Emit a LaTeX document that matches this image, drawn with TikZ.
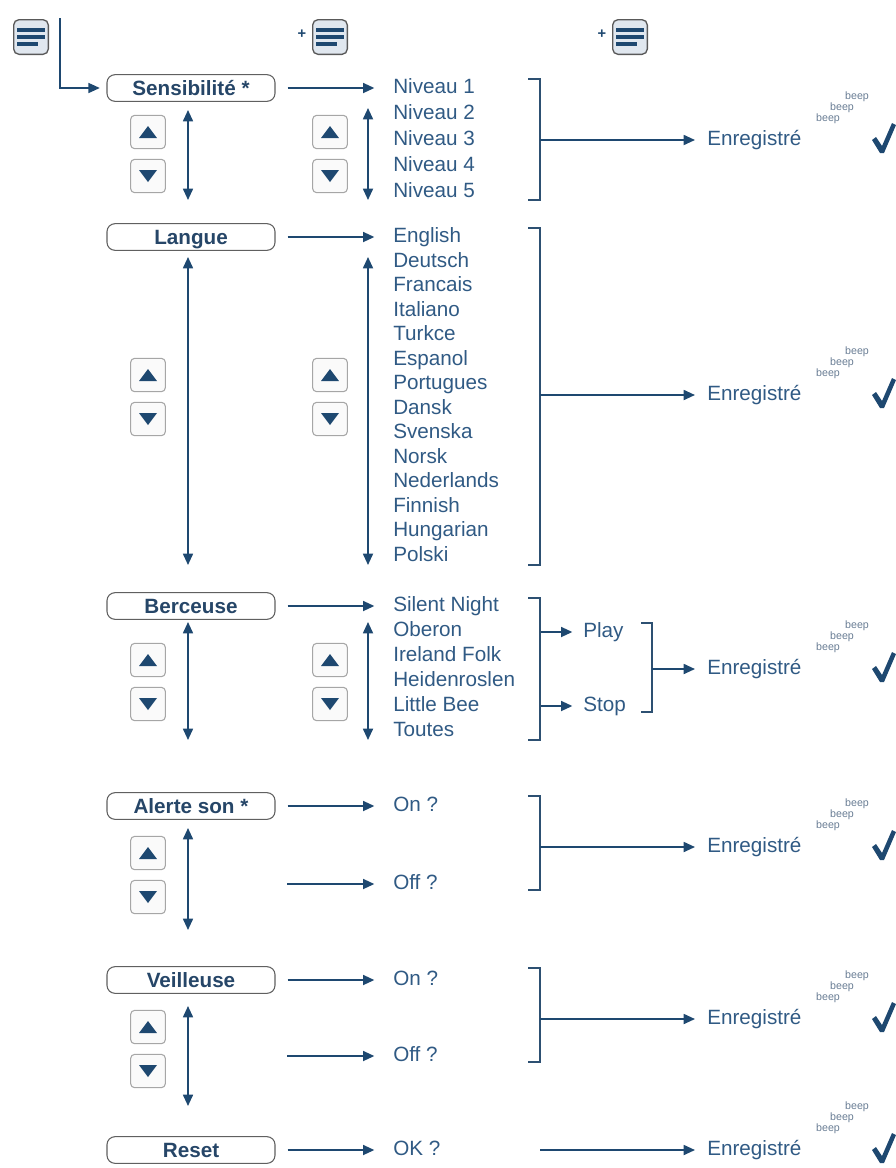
\documentclass[tikz,border=0pt]{standalone}
\usepackage{fontspec}
\setmainfont{Liberation Sans}
\usetikzlibrary{arrows.meta}

\definecolor{linecol}{RGB}{30,72,112}
\definecolor{itemcol}{RGB}{48,90,132}
\definecolor{boxcol}{RGB}{38,70,104}
\definecolor{beepcol}{RGB}{105,125,148}
\definecolor{iconfill}{RGB}{224,231,239}

\tikzset{
	menubox/.style={draw=gray!75!black, line width=0.8pt, rounded corners=6pt, fill=white,
		minimum width=126pt, minimum height=20pt, inner sep=0pt, text height=12pt, text depth=1pt,
		font=\fontsize{15.5}{18}\selectfont\bfseries, text=boxcol},
	item/.style={anchor=west, inner sep=0pt, text height=11.5pt, text depth=3pt,
		font=\fontsize{15.5}{18}\selectfont, text=itemcol},
	beep/.style={inner sep=0pt, font=\fontsize{8}{8}\selectfont, text=beepcol},
	arr/.style={draw=linecol, line width=1.3pt, -{Triangle[length=8.5pt,width=7.5pt]}},
	darr/.style={draw=linecol, line width=1.3pt, {Triangle[length=8.5pt,width=7.5pt]}-{Triangle[length=8.5pt,width=7.5pt]}},
	toitem/.style={arr, shorten <=9pt, shorten >=14pt},
	bracket/.style={draw=linecol!85!gray, line width=1.3pt},
	btn/.style={draw=gray!70, line width=0.8pt, rounded corners=3pt, fill=gray!4,
		minimum width=26pt, minimum height=25pt, inner sep=0pt},
	btnup/.style={btn, path picture={\fill[linecol, sharp corners] (path picture bounding box.center) ++(-9,6) -- ++(18,0) -- ++(-9,-12) -- cycle;}},
	btndown/.style={btn, path picture={\fill[linecol, sharp corners] (path picture bounding box.center) ++(-9,-6) -- ++(18,0) -- ++(-9,12) -- cycle;}},
	menuicon/.style={draw=gray!70!black, line width=1pt, rounded corners=4pt, fill=iconfill,
		minimum width=26pt, minimum height=26pt, inner sep=0pt,
		path picture={\foreach \yy/\ww in {-7/28,0/28,7/21}
			\draw[linecol, line width=2.5pt, sharp corners] (path picture bounding box.center) ++(-14,\yy) -- ++(\ww,0);}},
	plus/.style={inner sep=0pt, font=\fontsize{11}{11}\selectfont\bfseries, text=linecol},
}

\begin{document}
\begin{tikzpicture}[x=0.75pt, y=-0.75pt]
	\useasboundingbox (0,0) rectangle (896,1168);

	\node[menuicon] (m0) at (31,37) {};
	\node[menuicon] (m1) at (330,37) {};
	\node[menuicon] (m2) at (630,37) {};
	\node[plus] (p1) at (302,34) {+};
	\node[plus] (p2) at (602,34) {+};

	\foreach \name/\yy/\txt in {sens/88/Sensibilité *, lang/237/Langue, berc/606/Berceuse,
		alert/806/Alerte son *, veil/980/Veilleuse, reset/1150/Reset} {
		\node[menubox] (\name) at (191,\yy) {\txt};
	}

	\coordinate (start) at (60,18);
	\draw[arr, line width=1pt, shorten >=5pt] (start) |- (sens);

	\foreach \i in {1,...,5} {
		\node[item] (niv\i) at (393,{88+26*(\i-1)}) {Niveau \i};
	}
	\foreach \name [count=\i from 0] in {English, Deutsch, Francais, Italiano, Turkce, Espanol,
		Portugues, Dansk, Svenska, Norsk, Nederlands, Finnish, Hungarian, Polski} {
		\node[item] (lg\i) at (393,{237+24.5*\i}) {\name};
	}
	\foreach \name [count=\i from 0] in {Silent Night, Oberon, Ireland Folk, Heidenroslen, Little Bee, Toutes} {
		\node[item] (song\i) at (393,{606+25*\i}) {\name};
	}
	\node[item] (on4) at (393,806) {On ?};
	\node[item] (off4) at (393,884) {Off ?};
	\node[item] (on5) at (393,980) {On ?};
	\node[item] (off5) at (393,1056) {Off ?};
	\node[item] (ok6) at (393,1150) {OK ?};
	\node[item] (play) at (583,632) {Play};
	\node[item] (stop) at (583,706) {Stop};

	\draw[toitem] (sens.east) -- (niv1.west);
	\draw[toitem] (lang.east) -- (lg0.west);
	\draw[toitem] (berc.east) -- (song0.west);
	\draw[toitem] (alert.east) -- (on4.west);
	\draw[toitem] (veil.east) -- (on5.west);
	\draw[toitem] (reset.east) -- (ok6.west);
	\coordinate (o4) at (287,884);
	\coordinate (o5) at (287,1056);
	\draw[arr, shorten >=14pt] (o4) -- (off4.west);
	\draw[arr, shorten >=14pt] (o5) -- (off5.west);

	\foreach \name/\xx/\yy in {s1a/148/132, s1b/330/132, s2a/148/375, s2b/330/375,
		s3a/148/660, s3b/330/660, s4a/148/853, s5a/148/1027} {
		\node[btnup] (up\name) at (\xx,\yy) {};
		\node[btndown] (dn\name) at (\xx,\yy+44) {};
	}

	\foreach \name/\xx/\ya/\yb in {v1a/188/110/200, v1b/368/108/200, v2a/188/257/565, v2b/368/257/565,
		v3a/188/622/740, v3b/368/622/740, v4a/188/828/930, v5a/188/1006/1106} {
		\coordinate (\name t) at (\xx,\ya);
		\coordinate (\name b) at (\xx,\yb);
		\draw[darr] (\name t) -- (\name b);
	}

	\foreach \i/\ya/\yb in {1/79/200, 2/228/565, 3/598/740, 4/796/890, 5/968/1062} {
		\coordinate (bt\i) at (540,\ya);
		\coordinate (bb\i) at (540,\yb);
		\draw[bracket] (528,\ya) -- (bt\i) -- (bb\i) -- (528,\yb);
	}
	\coordinate (bt6) at (652,623);
	\coordinate (bb6) at (652,712);
	\draw[bracket] (641,623) -- (bt6) -- (bb6) -- (641,712);

	\coordinate (bplay) at (541,632);
	\coordinate (bstop) at (541,706);
	\draw[arr, shorten >=8pt] (bplay) -- (play.west);
	\draw[arr, shorten >=8pt] (bstop) -- (stop.west);

	\foreach \i/\yy/\xs in {1/140/540, 2/395/540, 3/669/652, 4/847/540, 5/1019/540, 6/1150/540} {
		\node[item] (e\i) at (707,\yy) {Enregistré};
		\node[beep] (bpa\i) at (857,\yy-43) {beep};
		\node[beep] (bpb\i) at (842,\yy-32) {beep};
		\node[beep] (bpc\i) at (828,\yy-21) {beep};
		\fill[linecol, shift={(884,\yy)}] (-12,0) -- (-8,-3) -- (-2,6) -- (8,-17) -- (12,-15) -- (0,13) -- (-4,13) -- cycle;
		\coordinate (bm\i) at (\xs,\yy);
		\draw[arr, shorten >=9pt] (bm\i) -- (e\i.west);
	}
\end{tikzpicture}
\end{document}
